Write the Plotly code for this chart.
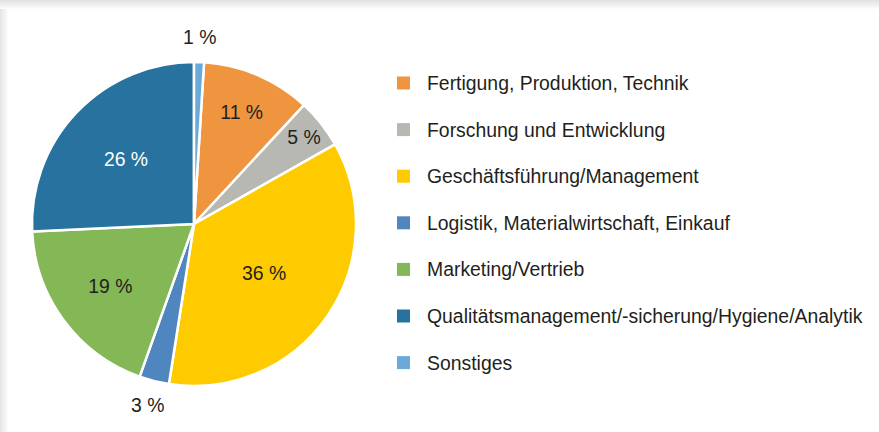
import math
import plotly.graph_objects as go

categories = [
    "Fertigung, Produktion, Technik",
    "Forschung und Entwicklung",
    "Geschäftsführung/Management",
    "Logistik, Materialwirtschaft, Einkauf",
    "Marketing/Vertrieb",
    "Qualitätsmanagement/-sicherung/Hygiene/Analytik",
    "Sonstiges",
]
values = [11, 5, 36, 3, 19, 26, 1]
colors = ["#f0953f", "#b8b8b3", "#fecb00", "#4f86c0", "#84b756", "#27729e", "#6aaad9"]
text_colors = ["#231f20", "#231f20", "#231f20", "#231f20", "#231f20", "#ffffff", "#231f20"]
outside = [False, False, False, True, False, False, True]

W, H = 879, 432
FONT = "Liberation Sans, Arial, sans-serif"
FS = 19.4

# pie geometry in pixels
CX, CY, R = 194, 224, 162
total = sum(values)
rotation = 360 * values[-1] / total

fig = go.Figure()
fig.add_trace(go.Pie(
    labels=categories,
    values=values,
    sort=False,
    direction="clockwise",
    rotation=rotation,
    marker=dict(colors=colors, line=dict(color="white", width=2.5)),
    texttemplate=["" if o else "%{value} %" for o in outside],
    textposition="inside",
    insidetextorientation="horizontal",
    textfont=dict(family=FONT, size=FS, color=text_colors),
    domain=dict(x=[(CX - R) / W, (CX + R) / W], y=[1 - (CY + R) / H, 1 - (CY - R) / H]),
    showlegend=False,
    hoverinfo="label+value",
))

shapes = []
# soft card shadow on top and left edges
for k in range(9):
    c = 226 + k * 3.2
    shapes.append(dict(type="rect", xref="paper", yref="paper", x0=0, x1=1,
                       y0=1 - (k + 1) / H, y1=1 - k / H,
                       fillcolor=f"rgb({c:.0f},{c:.0f},{c:.0f})", line=dict(width=0), layer="below"))
for k in range(8):
    c = 230 + k * 3.0
    shapes.append(dict(type="rect", xref="paper", yref="paper", x0=k / W, x1=(k + 1) / W,
                       y0=0, y1=1 - 9 / H,
                       fillcolor=f"rgb({c:.0f},{c:.0f},{c:.0f})", line=dict(width=0), layer="below"))

annotations = []
# outside labels for small slices, placed along the slice mid-angle
cum = 0.0
for v, o in zip(values, outside):
    mid = rotation + 360 * (cum + v / 2) / total
    cum += v
    if o:
        rr = R + 25
        x = CX + rr * math.sin(math.radians(mid))
        y = CY - rr * math.cos(math.radians(mid))
        annotations.append(dict(x=x / W, y=1 - y / H, xref="paper", yref="paper",
                                text=f"{v} %", showarrow=False, xanchor="center", yanchor="middle",
                                font=dict(family=FONT, size=FS, color="#231f20")))

# legend drawn from categories/colors
y0, dy = 83, 46.6
for i, (cat, col) in enumerate(zip(categories, colors)):
    yc = y0 + i * dy
    shapes.append(dict(type="rect", xref="paper", yref="paper",
                       x0=397 / W, x1=410 / W, y0=1 - (yc + 6.5) / H, y1=1 - (yc - 6.5) / H,
                       fillcolor=col, line=dict(width=0)))
    annotations.append(dict(x=425 / W, y=1 - yc / H, xref="paper", yref="paper",
                            text=cat, showarrow=False, xanchor="left", yanchor="middle",
                            font=dict(family=FONT, size=FS, color="#231f20")))

fig.update_layout(
    width=W, height=H,
    margin=dict(l=0, r=0, t=0, b=0),
    paper_bgcolor="white",
    plot_bgcolor="white",
    shapes=shapes,
    annotations=annotations,
)
fig.write_html("out.html", config={"displayModeBar": False},
               post_script="document.body.style.margin='0';")
